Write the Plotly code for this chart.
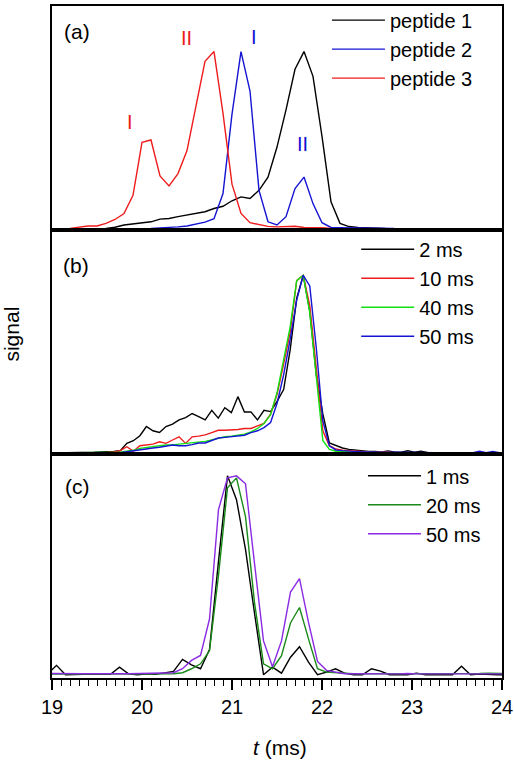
import numpy as np
import plotly.graph_objects as go
from plotly.subplots import make_subplots

# ---------------- panel (a): 0.1 ms sampling, normalised signal ----------------
A_STEP = 0.1
PEPTIDE1_T0 = 19.6
PEPTIDE1 = [0.0, 0.006, 0.019, 0.024, 0.028, 0.037, 0.052, 0.056, 0.066, 0.075,
            0.084, 0.094, 0.112, 0.125, 0.156, 0.178, 0.169, 0.215, 0.29, 0.46,
            0.67, 0.9, 1.0, 0.86, 0.52, 0.15, 0.028, 0.01, 0.005, 0.004, 0.003, 0.0]
PEPTIDE2_T0 = 20.1
PEPTIDE2 = [0.0, 0.002, 0.003, 0.008, 0.013, 0.022, 0.035, 0.055, 0.197, 0.646,
            1.0, 0.777, 0.215, 0.037, 0.019, 0.066, 0.225, 0.29, 0.14, 0.032,
            0.005, 0.004, 0.004, 0.004, 0.004, 0.004, 0.003, 0.0]
PEPTIDE3_T0 = 19.2
PEPTIDE3 = [0.0, 0.006, 0.013, 0.013, 0.028, 0.05, 0.084, 0.187, 0.487, 0.50,
            0.296, 0.24, 0.31, 0.44, 0.70, 0.945, 1.0, 0.65, 0.25, 0.084,
            0.032, 0.02, 0.011, 0.008, 0.01, 0.012, 0.005, 0.006, 0.003, 0.0]
A_NAMES = ["peptide 1", "peptide 2", "peptide 3"]

# ---------------- panel (b): ~0.0726 ms sampling ----------------
B_T0 = 18.96
B_STEP = 0.0726
B_2MS = [0, 0, 0, 0, 0, 0, 0, 0.004, 0.006, 0.005,
         0.008, 0.013, 0.054, 0.069, 0.097, 0.149, 0.125, 0.115, 0.149, 0.162,
         0.186, 0.199, 0.222, 0.205, 0.186, 0.240, 0.196, 0.255, 0.227, 0.317,
         0.231, 0.231, 0.186, 0.240, 0.233, 0.29, 0.357, 0.58, 0.87, 1.0,
         0.8, 0.44, 0.22, 0.056, 0.041, 0.028, 0.02, 0.015, 0.012, 0.008,
         0.008, 0.006, 0.012, 0.004, 0.004, 0.012, 0.004, 0.01, 0.003, 0.002,
         0.002, 0.003, 0.002, 0.002, 0.002, 0.003, 0.002, 0.002, 0.002, 0.002,
         0.002]
B_10MS = [0, 0, 0, 0, 0, 0, 0, 0, 0, 0.003,
          0.006, 0.013, 0.035, 0.01, 0.041, 0.045, 0.05, 0.063, 0.054, 0.073,
          0.091, 0.054, 0.091, 0.095, 0.102, 0.115, 0.128, 0.128, 0.128, 0.132,
          0.138, 0.138, 0.153, 0.166, 0.218, 0.33, 0.50, 0.68, 0.97, 1.0,
          0.83, 0.48, 0.125, 0.041, 0.022, 0.015, 0.012, 0.01, 0.008, 0.004,
          0.003, 0.006, 0.003, 0.002, 0.002, 0.002, 0.002, 0.002, 0.002, 0.002,
          0.002, 0.002, 0.002, 0.002, 0.002, 0.002, 0.002, 0.002, 0.002, 0.002,
          0.002]
B_40MS = [0, 0, 0, 0, 0, 0, 0, 0, 0, 0,
          0.002, 0.004, 0.01, 0.015, 0.026, 0.032, 0.035, 0.041, 0.045, 0.045,
          0.05, 0.054, 0.056, 0.06, 0.065, 0.074, 0.084, 0.091, 0.095, 0.10,
          0.106, 0.119, 0.138, 0.166, 0.215, 0.34, 0.52, 0.71, 0.97, 1.0,
          0.79, 0.43, 0.07, 0.02, 0.01, 0.008, 0.004, 0.003, 0.003, 0.002,
          0.002, 0.002, 0.002, 0.002, 0.002, 0.002, 0.002, 0.002, 0.002, 0.002,
          0.002, 0.002, 0.002, 0.002, 0.002, 0.002, 0.002, 0.002, 0.002, 0.002,
          0.002]
B_50MS = [0, 0, 0, 0, 0, 0, 0, 0.003, 0.002, 0,
          0, 0.002, 0.007, 0.013, 0.02, 0.026, 0.028, 0.032, 0.037, 0.045,
          0.041, 0.041, 0.047, 0.056, 0.056, 0.069, 0.084, 0.088, 0.093, 0.099,
          0.10, 0.115, 0.125, 0.143, 0.171, 0.28, 0.44, 0.64, 0.86, 1.0,
          0.94, 0.59, 0.18, 0.04, 0.017, 0.013, 0.01, 0.008, 0.006, 0.006,
          0.004, 0.003, 0.003, 0.004, 0.003, 0.002, 0.002, 0.002, 0.003, 0.002,
          0.002, 0.002, 0.003, 0.002, 0.003, 0.002, 0.01, 0.002, 0.008, 0.002,
          0.002]
B_NAMES = ["2 ms", "10 ms", "40 ms", "50 ms"]

# ---------------- panel (c): 0.1 ms sampling ----------------
C_T0 = 18.95
C_STEP = 0.1
C_1MS = [0.003, 0.047, 0.0, 0.002, 0.002, 0.003, 0.002, 0.002, 0.038, 0.005,
         0.0, 0.005, 0.002, 0.01, 0.017, 0.077, 0.05, 0.03, 0.127, 0.57,
         1.0, 0.88, 0.63, 0.31, 0.0, 0.038, 0.008, 0.088, 0.141, 0.063,
         0.0, 0.013, 0.03, 0.008, 0.0, 0.0, 0.03, 0.018, 0.0, 0.0,
         0.0, 0.008, 0.0, 0.0, 0.0, 0.0, 0.043, 0.0, 0.003, 0.0,
         0.0, 0.0]
C_20MS = [0.003, 0.003, 0.004, 0.004, 0.004, 0.004, 0.003, 0.003, 0.003, 0.004,
          0.004, 0.004, 0.003, 0.004, 0.005, 0.01, 0.03, 0.055, 0.12, 0.5,
          0.94, 0.99, 0.795, 0.363, 0.055, 0.03, 0.096, 0.26, 0.338, 0.18,
          0.03, 0.013, 0.01, 0.006, 0.005, 0.004, 0.004, 0.003, 0.004, 0.004,
          0.004, 0.003, 0.004, 0.004, 0.005, 0.004, 0.004, 0.005, 0.006, 0.008,
          0.008, 0.006]
C_50MS = [0.006, 0.005, 0.005, 0.005, 0.005, 0.005, 0.006, 0.007, 0.005, 0.005,
          0.006, 0.006, 0.005, 0.006, 0.01, 0.03, 0.072, 0.097, 0.28, 0.83,
          0.99, 1.0, 0.96, 0.56, 0.17, 0.04, 0.17, 0.416, 0.483, 0.263,
          0.067, 0.022, 0.013, 0.005, 0.005, 0.004, 0.004, 0.005, 0.004, 0.004,
          0.006, 0.004, 0.004, 0.004, 0.004, 0.005, 0.004, 0.004, 0.004, 0.005,
          0.004, 0.004]
C_NAMES = ["1 ms", "20 ms", "50 ms"]

X_TICKS = [19, 20, 21, 22, 23, 24]
X_TICK_LABELS = ["19", "20", "21", "22", "23", "24"]


def time_axis(t0, step, values):
    return np.round(t0 + step * np.arange(len(values)), 4)


FONT = "Liberation Sans, Arial, Helvetica, sans-serif"
RED = "#ee1c1c"
BLUE = "#1414d2"
LIME = "#12e012"
DKGREEN = "#1a8a1a"
PURPLE = "#8a2be2"

fig = make_subplots(rows=3, cols=1, shared_xaxes=True, vertical_spacing=0)

LW = 1.4
# panel a
for name, t0, vals, col in [(A_NAMES[0], PEPTIDE1_T0, PEPTIDE1, "black"),
                            (A_NAMES[1], PEPTIDE2_T0, PEPTIDE2, BLUE),
                            (A_NAMES[2], PEPTIDE3_T0, PEPTIDE3, RED)]:
    fig.add_trace(go.Scatter(x=time_axis(t0, A_STEP, vals), y=vals, mode="lines",
                             name=name, line=dict(color=col, width=LW),
                             legend="legend"), row=1, col=1)
# panel b
for name, vals, col in [(B_NAMES[0], B_2MS, "black"), (B_NAMES[1], B_10MS, RED),
                        (B_NAMES[2], B_40MS, LIME), (B_NAMES[3], B_50MS, BLUE)]:
    fig.add_trace(go.Scatter(x=time_axis(B_T0, B_STEP, vals), y=vals, mode="lines",
                             name=name, line=dict(color=col, width=LW),
                             legend="legend2"), row=2, col=1)
# panel c
for name, vals, col in [(C_NAMES[0], C_1MS, "black"), (C_NAMES[1], C_20MS, DKGREEN),
                        (C_NAMES[2], C_50MS, PURPLE)]:
    fig.add_trace(go.Scatter(x=time_axis(C_T0, C_STEP, vals), y=vals, mode="lines",
                             name=name, line=dict(color=col, width=LW),
                             legend="legend3"), row=3, col=1)

axis_common = dict(showline=True, mirror=True, linecolor="black", linewidth=1.5,
                   showgrid=False, zeroline=False)
for r in (1, 2, 3):
    fig.update_xaxes(range=[19, 24], row=r, col=1, **axis_common)
    fig.update_yaxes(showticklabels=False, ticks="", row=r, col=1, **axis_common)
fig.update_xaxes(showticklabels=False, ticks="", row=1, col=1)
fig.update_xaxes(showticklabels=False, ticks="", row=2, col=1)
fig.update_xaxes(row=3, col=1, ticks="outside", ticklen=10, tickwidth=1.5,
                 tickcolor="black", tickvals=X_TICKS, ticktext=X_TICK_LABELS,
                 tickfont=dict(size=20, family=FONT, color="black"),
                 minor=dict(dtick=0.1, tick0=19, ticks="outside", ticklen=6,
                            tickwidth=1, tickcolor="black", showgrid=False))
fig.update_yaxes(range=[-0.0094, 1.258], row=1, col=1)
fig.update_yaxes(range=[-0.0058, 1.255], row=2, col=1)
fig.update_yaxes(range=[-0.0165, 1.110], row=3, col=1)

leg_common = dict(xanchor="left", yanchor="top", bgcolor="rgba(0,0,0,0)",
                  font=dict(size=20, family=FONT, color="black"), itemwidth=53,
                  tracegroupgap=0, borderwidth=0)
fig.update_layout(
    width=514, height=760,
    margin=dict(l=52, r=12, t=1, b=82),
    plot_bgcolor="white", paper_bgcolor="white",
    font=dict(family=FONT, size=20, color="black"),
    legend=dict(x=0.611, y=1.008, **leg_common),
    legend2=dict(x=0.676, y=0.667, **leg_common),
    legend3=dict(x=0.691, y=0.330, **leg_common),
)

ann = []
def label(text, x, y, xref, yref, color="black", size=21):
    ann.append(dict(text=text, x=x, y=y, xref=xref, yref=yref, showarrow=False,
                    xanchor="center", yanchor="middle",
                    font=dict(size=size, family=FONT, color=color)))

label("(a)", 19.28, 1.112, "x", "y")
label("(b)", 19.27, 1.058, "x2", "y2")
label("(c)", 19.285, 0.949, "x3", "y3")
label("I", 19.867, 0.60, "x", "y", RED, 20)
label("II", 20.49, 1.075, "x", "y", RED, 20)
label("I", 21.24, 1.08, "x", "y", BLUE, 20)
label("II", 21.78, 0.478, "x", "y", BLUE, 20)
ann.append(dict(text="signal", x=(12 - 52) / 450, y=(678 - 332) / 677, xref="paper",
                yref="paper", showarrow=False, textangle=-90, xanchor="center",
                yanchor="middle", font=dict(size=21, family=FONT, color="black")))
ann.append(dict(text="<i>t</i> (ms)", x=(280 - 52) / 450, y=(678 - 748) / 677,
                xref="paper", yref="paper", showarrow=False, xanchor="center",
                yanchor="middle", font=dict(size=21, family=FONT, color="black")))
fig.update_layout(annotations=ann)

fig.write_html("out.html", config={"displayModeBar": False},
               post_script="document.body.style.margin='0px';")
